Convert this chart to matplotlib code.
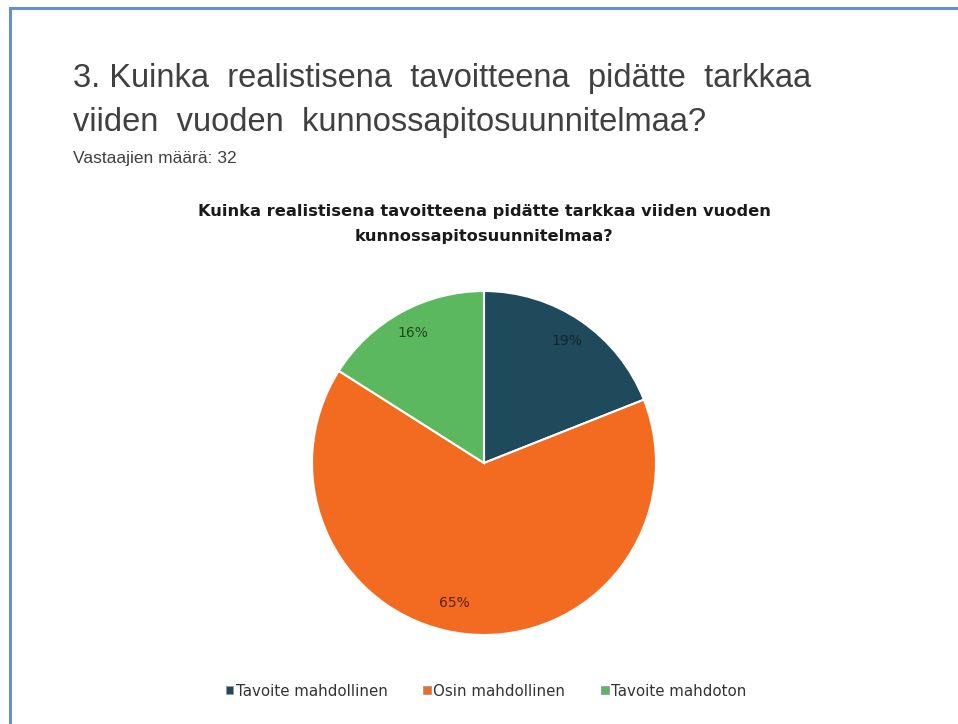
import matplotlib
matplotlib.use("Agg")
import numpy as np
import matplotlib.pyplot as plt
from matplotlib.lines import Line2D
from matplotlib.patches import Patch

# survey answers, percentages as shown
categories = ["Tavoite mahdollinen", "Osin mahdollinen", "Tavoite mahdoton"]
shares = [19, 65, 16]
colors = ["#1f4a5b", "#f26b21", "#5cb85e"]
label_colors = ["#16232b", "#5a1f08", "#1d4a1d"]

title_lines = ["3. Kuinka  realistisena  tavoitteena  pidätte  tarkkaa",
               "viiden  vuoden  kunnossapitosuunnitelmaa?"]
respondents = "Vastaajien määrä: 32"
chart_title_lines = ["Kuinka realistisena tavoitteena pidätte tarkkaa viiden vuoden",
                     "kunnossapitosuunnitelmaa?"]

W, H = 958, 724
fig = plt.figure(figsize=(W / 100, H / 100), dpi=100)
fig.patch.set_facecolor("white")


def fx(px):
    return px / W


def fy(py):
    return 1 - py / H


# slide frame, only top and left edges visible
frame = "#6690cc"
fig.add_artist(Line2D([fx(9.5), 1], [fy(8), fy(8)], color=frame, lw=2.2))
fig.add_artist(Line2D([fx(9.5), fx(9.5)], [fy(8), 0], color=frame, lw=2.2))

for line, base in zip(title_lines, [87, 131]):
    fig.text(fx(73), fy(base), line, ha="left", va="baseline", fontsize=23.5,
             color="#404040", family="Liberation Sans")
fig.text(fx(73), fy(163), respondents, ha="left", va="baseline", fontsize=12.5,
         color="#404040", family="Liberation Sans")
for line, base in zip(chart_title_lines, [216, 241]):
    fig.text(fx(484), fy(base), line, ha="center", va="baseline", fontsize=11.7,
             fontweight="bold", color="#1a1a1a", family="DejaVu Sans")

# pie axes: centre (484, 463), radius 172 px
cx, cy, r = 484, 463, 172
ax = fig.add_axes([fx(cx - r), fy(cy + r), 2 * r / W, 2 * r / H])
wedges, texts, autotexts = ax.pie(
    shares, colors=colors, startangle=90, counterclock=False,
    autopct=lambda p: f"{p:.0f}%", pctdistance=0.86,
    wedgeprops=dict(edgecolor="white", linewidth=1.5),
    textprops=dict(fontsize=10, family="DejaVu Sans"))
for t, c in zip(autotexts, label_colors):
    t.set_color(c)
# the big slice's label sits a bit left of the slice middle
ang = np.deg2rad(-102)
autotexts[1].set_position((0.83 * np.cos(ang), 0.83 * np.sin(ang)))
ax.set_xlim(-1, 1)
ax.set_ylim(-1, 1)
ax.axis("off")

handles = [Patch(facecolor=c, edgecolor="#9a9a9a", linewidth=0.6) for c in colors]
fig.legend(handles, categories, loc="center", bbox_to_anchor=(fx(486), fy(691)),
           ncol=3, frameon=False, handlelength=0.5, handleheight=0.5,
           handletextpad=0.15, columnspacing=2.4,
           prop=dict(size=10.8, family="DejaVu Sans"), labelcolor="#333333")

fig.savefig("out.png", dpi=100)
